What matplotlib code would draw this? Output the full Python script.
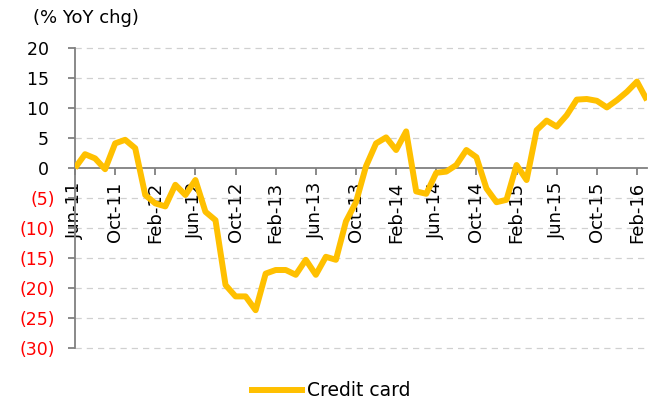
import numpy as np
import matplotlib
matplotlib.use("Agg")
import matplotlib.pyplot as plt

# monthly YoY change, Jun-11 .. Mar-16
months = ["Jun-11", "Jul-11", "Aug-11", "Sep-11", "Oct-11", "Nov-11", "Dec-11",
          "Jan-12", "Feb-12", "Mar-12", "Apr-12", "May-12", "Jun-12", "Jul-12",
          "Aug-12", "Sep-12", "Oct-12", "Nov-12", "Dec-12", "Jan-13", "Feb-13",
          "Mar-13", "Apr-13", "May-13", "Jun-13", "Jul-13", "Aug-13", "Sep-13",
          "Oct-13", "Nov-13", "Dec-13", "Jan-14", "Feb-14", "Mar-14", "Apr-14",
          "May-14", "Jun-14", "Jul-14", "Aug-14", "Sep-14", "Oct-14", "Nov-14",
          "Dec-14", "Jan-15", "Feb-15", "Mar-15", "Apr-15", "May-15", "Jun-15",
          "Jul-15", "Aug-15", "Sep-15", "Oct-15", "Nov-15", "Dec-15", "Jan-16",
          "Feb-16", "Mar-16"]
credit_card = [0.0, 2.3, 1.6, -0.2, 4.1, 4.7, 3.3,
               -4.5, -5.9, -6.4, -2.8, -4.5, -2.0, -7.3,
               -8.7, -19.5, -21.4, -21.4, -23.7, -17.6, -17.0,
               -17.0, -17.8, -15.3, -17.8, -14.8, -15.3, -8.9,
               -5.7, 0.3, 4.1, 5.1, 3.0, 6.1, -3.9,
               -4.3, -0.8, -0.6, 0.5, 3.0, 1.8, -3.4,
               -5.7, -5.3, 0.5, -2.0, 6.3, 7.9, 6.9,
               8.8, 11.4, 11.5, 11.2, 10.1, 11.3, 12.7,
               14.4, 11.3]
yticks = [20, 15, 10, 5, 0, -5, -10, -15, -20, -25, -30]

plt.rcParams['font.family'] = ['DejaVu Sans']

fig = plt.figure(figsize=(6.58, 4.03), dpi=100)
ax = fig.add_axes([75/658, 1-348/403, (647-75)/658, 300/403])

# spine moved first: set_position resets the x tick labels
for s in ['top', 'right']:
    ax.spines[s].set_visible(False)
ax.spines['bottom'].set_position(('data', 0))
ax.spines['bottom'].set_color('#808080')
ax.spines['left'].set_color('#808080')
ax.spines['bottom'].set_linewidth(1.3)
ax.spines['left'].set_linewidth(1.3)

x = np.arange(len(months))
ax.plot(x, credit_card, color='#FFC000', lw=4.3, solid_joinstyle='round',
        solid_capstyle='butt', label='Credit card', zorder=3)

ax.set_xlim(0, len(months) - 1)
ax.set_ylim(-30, 20)

# gridlines drawn by hand so the bottom one at -30 is not clipped
for v in yticks:
    if v != 0:
        ax.axhline(v, color='#D0D0D0', ls=(0, (5, 4)), lw=0.9, zorder=0, clip_on=False)

# excel style: positives leave room for the closing bracket
ylabels = ['%d ' % v if v >= 0 else '(%d)' % -v for v in yticks]
ax.set_yticks(yticks)
ax.set_yticklabels(ylabels, fontsize=12.5)
for lab, v in zip(ax.get_yticklabels(), yticks):
    lab.set_color('red' if v < 0 else 'black')

xt = x[::4]
ax.set_xticks(xt)
ax.set_xticklabels([months[i] for i in xt], fontsize=13, rotation=90, va='top', ha='center')

ax.tick_params(axis='both', color='#808080', width=1.3, length=5)
ax.tick_params(axis='y', pad=9.5)
ax.tick_params(axis='x', pad=5)

fig.text(33/658, 1-18/403, '(% YoY chg)', fontsize=13, va='center', ha='left')

fig.legend(loc='center left', bbox_to_anchor=(232/658, 1-391/403), frameon=False,
           fontsize=13.5, handlelength=3.0, handletextpad=0.1)

fig.savefig('out.png', dpi=100)
